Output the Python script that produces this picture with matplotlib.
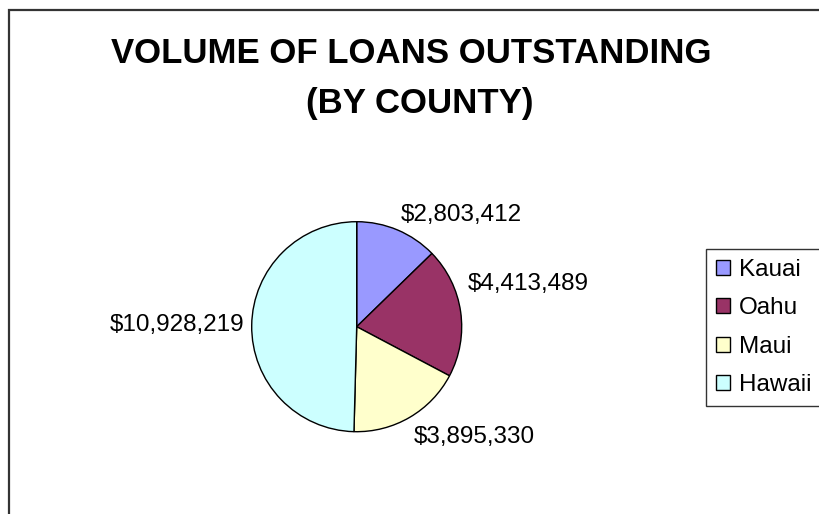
import matplotlib
matplotlib.use("Agg")
import matplotlib.pyplot as plt
from matplotlib.patches import Rectangle, Patch
import numpy as np

plt.rcParams['font.family'] = ['Liberation Sans', 'DejaVu Sans']

counties = ["Kauai", "Oahu", "Maui", "Hawaii"]
loans = [2803412, 4413489, 3895330, 10928219]
labels = ["$2,803,412", "$4,413,489", "$3,895,330", "$10,928,219"]
colors = ["#9999FF", "#993366", "#FFFFCC", "#CCFFFF"]
title_line1 = "VOLUME OF LOANS OUTSTANDING"
title_line2 = "(BY COUNTY)"

W, H = 819, 514
fig = plt.figure(figsize=(W / 100, H / 100), dpi=100)
fig.patch.set_facecolor("white")

# chart-area border (cropped on right and bottom)
fig.add_artist(Rectangle((8.5 / W, -0.05), 1.2, 1.05 - 9.5 / H, transform=fig.transFigure,
                         fill=False, edgecolor="#333333", linewidth=1.6))

# title
fig.text(411 / W, 1 - 63 / H, title_line1, ha="center", va="baseline",
         fontsize=25, fontweight="bold")
fig.text(419.5 / W, 1 - 113 / H, title_line2, ha="center", va="baseline",
         fontsize=25, fontweight="bold")

# pie
cx, cy, r = 356.7, 326.7, 105
ax = fig.add_axes([(cx - r) / W, 1 - (cy + r) / H, 2 * r / W, 2 * r / H])
wedges, _ = ax.pie(loans, colors=colors, startangle=90, counterclock=False,
                   wedgeprops=dict(edgecolor="black", linewidth=1.0))
ax.set_xlim(-1, 1)
ax.set_ylim(-1, 1)
ax.set_aspect("equal")
ax.axis("off")

nudge = {"Oahu": (0, 11), "Kauai": (0, -2), "Maui": (0, -2)}  # label offsets in points
for w, lab, name in zip(wedges, labels, counties):
    th = np.deg2rad((w.theta1 + w.theta2) / 2)
    c, s = np.cos(th), np.sin(th)
    x, y = 1.07 * c, 1.07 * s
    ha = "left" if c > 0.1 else ("right" if c < -0.1 else "center")
    va = "bottom" if s > 0.1 else ("top" if s < -0.1 else "center")
    ax.annotate(lab, (x, y), xytext=nudge.get(name, (0, 0)), textcoords="offset points",
                ha=ha, va=va, fontsize=17.5, annotation_clip=False)

# legend
handles = [Patch(facecolor=col, edgecolor="black", linewidth=1.0) for col in colors]
leg = fig.legend(handles, counties, loc="upper left",
                 bbox_to_anchor=(706 / W, 1 - 249 / H), bbox_transform=fig.transFigure,
                 fontsize=17.5, frameon=True, fancybox=False, framealpha=1,
                 edgecolor="#333333", borderaxespad=0, borderpad=0.42,
                 handlelength=0.58, handleheight=0.58, handletextpad=0.37,
                 labelspacing=0.67)
leg.get_frame().set_linewidth(1.0)

fig.savefig("out.png", dpi=100, facecolor="white")
